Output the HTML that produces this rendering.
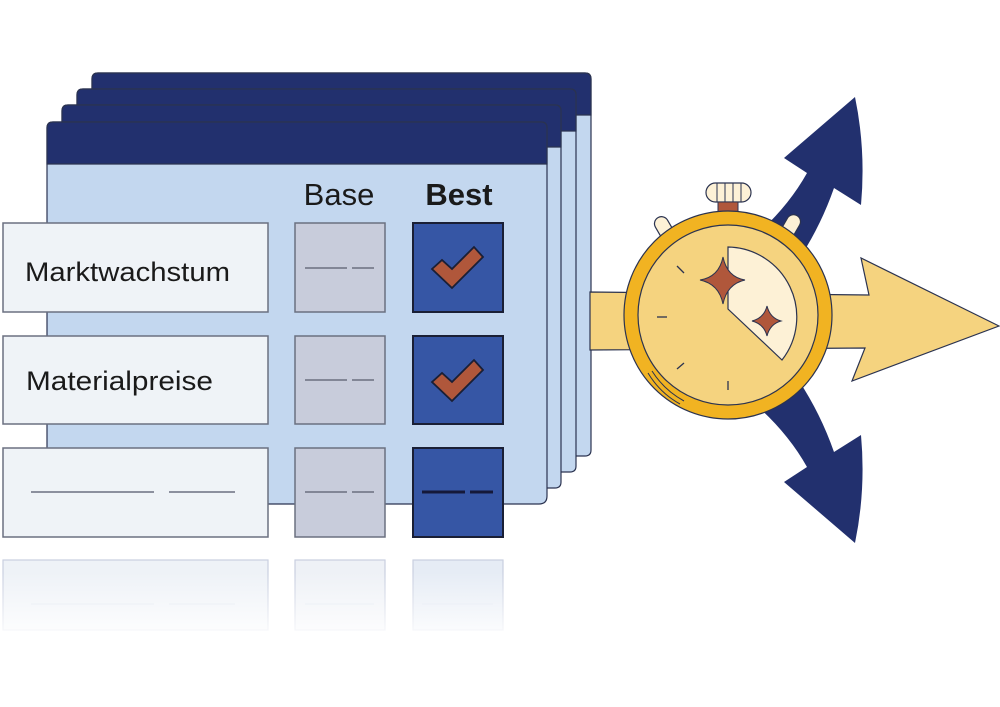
<!DOCTYPE html>
<html><head><meta charset="utf-8"><style>
html,body{margin:0;padding:0;background:#fff;}
svg{display:block;}
text{font-family:"Liberation Sans",sans-serif;}
</style></head><body>
<svg width="1000" height="707" viewBox="0 0 1000 707" xmlns="http://www.w3.org/2000/svg">
<defs>
<linearGradient id="fade" x1="0" y1="0" x2="0" y2="1">
<stop offset="0" stop-color="#fff" stop-opacity="0"/>
<stop offset="1" stop-color="#fff" stop-opacity="1"/>
</linearGradient>
</defs>
<g stroke="#2b3350" stroke-width="1.2">
<path d="M92 79 Q92 73 98 73 L585 73 Q591 73 591 79 L591 450 Q591 456 585 456 L92 456 Z" fill="#c3d7ef"/>
<path d="M92 79 Q92 73 98 73 L585 73 Q591 73 591 79 L591 115 L92 115 Z" fill="#22306e"/>
<path d="M77 95 Q77 89 83 89 L570 89 Q576 89 576 95 L576 466 Q576 472 570 472 L77 472 Z" fill="#c3d7ef"/>
<path d="M77 95 Q77 89 83 89 L570 89 Q576 89 576 95 L576 131 L77 131 Z" fill="#22306e"/>
<path d="M62 111 Q62 105 68 105 L555 105 Q561 105 561 111 L561 482 Q561 488 555 488 L62 488 Z" fill="#c3d7ef"/>
<path d="M62 111 Q62 105 68 105 L555 105 Q561 105 561 111 L561 147 L62 147 Z" fill="#22306e"/>
<path d="M47 128 Q47 122 53 122 L541 122 Q547 122 547 128 L547 496 Q547 504 539 504 L47 504 Z" fill="#c3d7ef"/>
<path d="M47 128 Q47 122 53 122 L541 122 Q547 122 547 128 L547 164 L47 164 Z" fill="#22306e"/>
</g>
<text x="339" y="205" font-size="31" text-anchor="middle" fill="#1a1a1a">Base</text>
<text x="459" y="205" font-size="31" font-weight="bold" text-anchor="middle" fill="#1a1a1a">Best</text>
<g stroke="#6b7080" stroke-width="1.5">
<rect x="3" y="223" width="265" height="89" fill="#eff3f7"/>
<rect x="3" y="336" width="265" height="88" fill="#eff3f7"/>
<rect x="3" y="448" width="265" height="89" fill="#eff3f7"/>
<rect x="295" y="223" width="90" height="89" fill="#c8ccdb"/>
<rect x="295" y="336" width="90" height="88" fill="#c8ccdb"/>
<rect x="295" y="448" width="90" height="89" fill="#c8ccdb"/>
</g>
<g stroke="#1a1f35" stroke-width="2">
<rect x="413" y="223" width="90" height="89" fill="#3656a5"/>
<rect x="413" y="336" width="90" height="88" fill="#3656a5"/>
<rect x="413" y="448" width="90" height="89" fill="#3656a5"/>
</g>
<text x="25" y="281" font-size="27" fill="#1a1a1a" textLength="205" lengthAdjust="spacingAndGlyphs">Marktwachstum</text>
<text x="26" y="390" font-size="27" fill="#1a1a1a" textLength="187" lengthAdjust="spacingAndGlyphs">Materialpreise</text>
<g stroke="#6b6f80" stroke-width="1.5">
<line x1="305" y1="268" x2="347" y2="268"/><line x1="352" y1="268" x2="374" y2="268"/>
<line x1="305" y1="380" x2="347" y2="380"/><line x1="352" y1="380" x2="374" y2="380"/>
<line x1="305" y1="492" x2="347" y2="492"/><line x1="352" y1="492" x2="374" y2="492"/>
<line x1="31" y1="492" x2="154" y2="492"/><line x1="169" y1="492" x2="235" y2="492"/>
</g>
<g stroke="#15193a" stroke-width="3">
<line x1="422" y1="492" x2="465" y2="492"/><line x1="470" y1="492" x2="493" y2="492"/>
</g>
<g fill="#b0573b" stroke="#1a1f35" stroke-width="1.8">
<polygon points="432,269 442,260 452,269 474,247 483,257 452,288"/>
<polygon points="432,382 442,373 452,382 474,360 483,370 452,401"/>
</g>
<g stroke="#c9cfe0" stroke-width="1.2">
<rect x="3" y="560" width="265" height="70" fill="#eef2f7"/>
<rect x="295" y="560" width="90" height="70" fill="#eef1f6"/>
<rect x="413" y="560" width="90" height="70" fill="#e6ecf5"/>
</g>
<g stroke="#dde3ee" stroke-width="1">
<line x1="31" y1="604" x2="154" y2="604"/><line x1="169" y1="604" x2="235" y2="604"/>
<line x1="305" y1="604" x2="374" y2="604"/><line x1="422" y1="604" x2="493" y2="604"/>
</g>
<rect x="0" y="572" width="520" height="70" fill="url(#fade)"/>
<g fill="#22306e">
<path d="M755 236 Q788 207 807 173 L784 158 L855 97 Q866 150 861 205 L834 188 Q820 228 797 262 Z"/>
<path d="M755 404 Q788 433 807 467 L784 482 L855 543 Q866 490 861 435 L834 452 Q820 412 797 378 Z"/>
</g>
<path d="M590 292 L869 295 L861 258 L999 326 L852 381 L865 348 L590 350 Z" fill="#f5d37f" stroke="#2b3350" stroke-width="1.2"/>
<g fill="#fdf1d6" stroke="#2b3350" stroke-width="1.2">
<rect x="657" y="216" width="14" height="24" rx="7" transform="rotate(-30 664 228)"/>
<rect x="784" y="214" width="14" height="24" rx="7" transform="rotate(30 791 226)"/>
<rect x="706" y="183" width="45" height="19" rx="9.5"/>
</g>
<g stroke="#2b3350" stroke-width="1"><line x1="717" y1="183" x2="717" y2="202"/><line x1="725" y1="183" x2="725" y2="202"/><line x1="733" y1="183" x2="733" y2="202"/><line x1="741" y1="183" x2="741" y2="202"/></g>
<rect x="718" y="202" width="20" height="14" fill="#b0573b" stroke="#2b3350" stroke-width="1"/>
<g transform="translate(0,-5)">
<circle cx="728" cy="320" r="104" fill="#f1b322" stroke="#2b3350" stroke-width="1.2"/>
<circle cx="728" cy="320" r="90" fill="#f5d37f" stroke="#2b3350" stroke-width="1.2"/>
<path d="M728 252 A70 70 0 0 1 782 365 L728 314 Z" fill="#fdf1d6" stroke="#2b3350" stroke-width="1.2"/>
<g stroke="#2b3350" stroke-width="1.3">
<line x1="677" y1="271" x2="684" y2="278"/><line x1="657" y1="322" x2="667" y2="322"/>
<line x1="677" y1="374" x2="684" y2="368"/><line x1="728" y1="386" x2="728" y2="395"/>
</g>
<path d="M648 378 Q660 398 680 409" fill="none" stroke="#2b3350" stroke-width="1"/>
<path d="M652 376 Q664 395 684 406" fill="none" stroke="#2b3350" stroke-width="1"/>
<g fill="#b0573b" stroke="#2b3350" stroke-width="1">
<path d="M723 262 Q727 282 745 285 Q727 289 723 309 Q719 289 700 285 Q719 282 723 262 Z"/>
<path d="M767 311 Q770 323 781 326 Q770 329 767 341 Q764 329 752 326 Q764 323 767 311 Z"/>
</g>
</g>
</svg>
</body></html>
